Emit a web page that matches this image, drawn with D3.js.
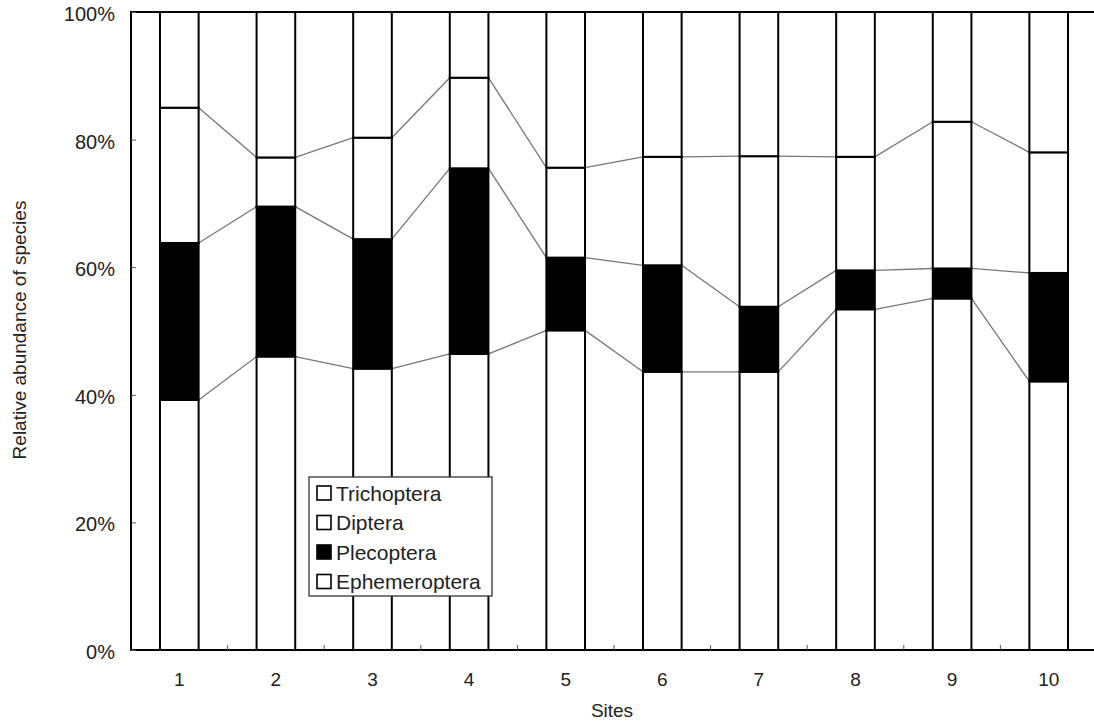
<!DOCTYPE html>
<html>
<head>
<meta charset="utf-8">
<script src="https://cdn.jsdelivr.net/npm/d3@7"></script>
<style>
	body { margin: 0; background: #fff; }
	svg text { font-family: "Liberation Sans", Arial, sans-serif; fill: #222; }
</style>
</head>
<body>
<svg id="chart" width="1094" height="722"></svg>
<script>
// values (% of species per site)
var sites = ["1","2","3","4","5","6","7","8","9","10"];
var ephemeroptera = [39.2, 46.0, 44.1, 46.4, 50.1, 43.6, 43.6, 53.4, 55.1, 42.1];
var plecoptera    = [24.6, 23.5, 20.3, 29.1, 11.4, 16.7, 10.2,  6.1,  4.7, 17.0];
var diptera       = [21.2,  7.7, 15.9, 14.2, 14.1, 17.0, 23.6, 17.8, 23.0, 18.9];
var trichoptera   = [15.0, 22.8, 19.7, 10.3, 24.4, 22.7, 22.6, 22.7, 17.2, 22.0];
var yTicks = [0, 20, 40, 60, 80, 100];

var keys = ["Ephemeroptera","Plecoptera","Diptera","Trichoptera"];
var fills = {Ephemeroptera:"#fff", Plecoptera:"#000", Diptera:"#fff", Trichoptera:"#fff"};
var legendOrder = ["Trichoptera","Diptera","Plecoptera","Ephemeroptera"];

var rows = sites.map(function(s,i)
{
	return {site:s, Ephemeroptera:ephemeroptera[i], Plecoptera:plecoptera[i], Diptera:diptera[i], Trichoptera:trichoptera[i]};
});

var plotLeft = 131, plotTop = 12, plotBottom = 650, plotRight = 1097;

var svg = d3.select("#chart");

var x = d3.scaleBand().domain(sites).range([plotLeft,plotRight]).paddingInner(0.6).paddingOuter(0.3);
var y = d3.scaleLinear().domain([0,100]).range([plotBottom,plotTop]);

var stack = d3.stack().keys(keys)(rows);

// connector lines between neighbouring bars
var lines = svg.append("g");
stack.slice(0,3).forEach(function(layer)
{
	for (var i = 0; i < layer.length - 1; i++)
	{
		lines.append("line")
			.attr("x1", x(sites[i]) + x.bandwidth())
			.attr("y1", y(layer[i][1]))
			.attr("x2", x(sites[i+1]))
			.attr("y2", y(layer[i+1][1]))
			.attr("stroke","#777")
			.attr("stroke-width",1.3);
	}
});

// stacked bars
svg.append("g").selectAll("g.layer").data(stack).enter().append("g")
	.classed("layer",1)
	.attr("fill",function(d){ return fills[d.key]; })
	.selectAll("rect").data(function(d){ return d; }).enter().append("rect")
	.attr("x",function(d){ return x(d.data.site); })
	.attr("y",function(d){ return y(d[1]); })
	.attr("width",x.bandwidth())
	.attr("height",function(d){ return y(d[0]) - y(d[1]); })
	.attr("stroke","#000")
	.attr("stroke-width",2);

// frame
svg.append("rect")
	.attr("x",plotLeft).attr("y",plotTop)
	.attr("width",plotRight-plotLeft).attr("height",plotBottom-plotTop)
	.attr("fill","none").attr("stroke","#000").attr("stroke-width",2);

// y axis
var yAxis = svg.append("g")
	.attr("transform","translate(" + plotLeft + ",0)")
	.call(d3.axisLeft(y).tickValues(yTicks).tickSize(-5).tickPadding(16).tickFormat(function(d){ return d + "%"; }));
yAxis.select(".domain").remove();
yAxis.selectAll("line").attr("stroke","#555");
yAxis.selectAll("text").attr("font-size","20px").attr("dy","0.42em");

// x axis: small ticks at band boundaries, labels at bar centres
var step = x.step();
var bounds = d3.range(1, sites.length).map(function(i){ return x(sites[i]) - step * 0.3; });
svg.append("g").selectAll("line").data(bounds).enter().append("line")
	.attr("x1",function(d){ return d; }).attr("x2",function(d){ return d; })
	.attr("y1",plotBottom).attr("y2",plotBottom-5)
	.attr("stroke","#555");

svg.append("g").selectAll("text").data(sites).enter().append("text")
	.text(function(d){ return d; })
	.attr("x",function(d){ return x(d) + x.bandwidth()/2; })
	.attr("y",686)
	.attr("text-anchor","middle")
	.attr("font-size","19px");

svg.append("text")
	.text("Sites")
	.attr("x",612).attr("y",717)
	.attr("text-anchor","middle")
	.attr("font-size","19px");

svg.append("text")
	.text("Relative abundance of species")
	.attr("transform","translate(26,330) rotate(-90)")
	.attr("text-anchor","middle")
	.attr("font-size","19px");

// legend
var legend = svg.append("g").attr("transform","translate(309,477)");
legend.append("rect")
	.attr("width",183).attr("height",119)
	.attr("fill","#fff").attr("stroke","#333").attr("stroke-width",1.3);
var items = legend.selectAll("g").data(legendOrder).enter().append("g")
	.attr("transform",function(d,i){ return "translate(8," + (16 + i*29.5) + ")"; });
items.append("rect")
	.attr("x",0).attr("y",-7).attr("width",14).attr("height",14)
	.attr("fill",function(d){ return fills[d]; })
	.attr("stroke","#000").attr("stroke-width",1.6);
items.append("text")
	.text(function(d){ return d; })
	.attr("x",19).attr("dy","0.36em")
	.attr("font-size","21px");
</script>
</body>
</html>
